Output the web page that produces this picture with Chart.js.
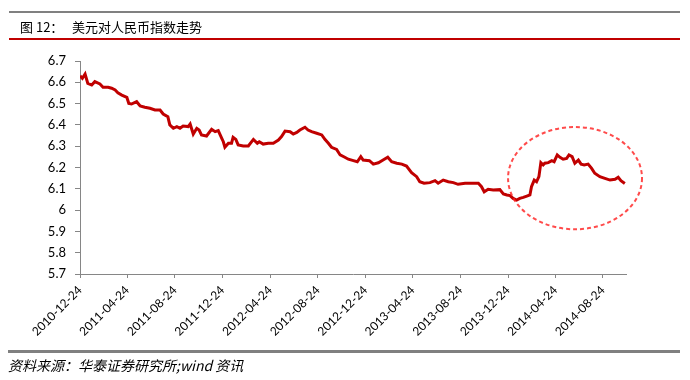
<!DOCTYPE html>
<html>
<head>
<meta charset="utf-8">
<script src="https://cdn.jsdelivr.net/npm/chart.js@4"></script>
<style>
  html, body { margin: 0; padding: 0; background: #ffffff; }
  #wrap { width: 690px; height: 380px; position: relative; }
</style>
</head>
<body>
<div id="wrap"><canvas id="c" width="690" height="380"></canvas></div>
<script>
// ---- data ----
const dates = [
'2010-12-24','2010-12-30','2011-01-06','2011-01-13','2011-01-23','2011-01-31','2011-02-13','2011-02-21','2011-03-06','2011-03-15',
'2011-03-24','2011-03-31','2011-04-10','2011-04-23','2011-04-28','2011-05-05','2011-05-18','2011-05-27','2011-06-08','2011-06-21',
'2011-07-04','2011-07-17','2011-07-25','2011-08-06','2011-08-11','2011-08-20','2011-08-29','2011-09-06','2011-09-14','2011-09-27',
'2011-10-02','2011-10-10','2011-10-19','2011-10-25','2011-10-31','2011-11-13','2011-11-26','2011-12-05','2011-12-13','2011-12-22',
'2011-12-26','2011-12-30','2012-01-08','2012-01-16','2012-01-20','2012-01-27','2012-02-02','2012-02-15','2012-02-28','2012-03-12',
'2012-03-22','2012-03-27','2012-04-06','2012-04-19','2012-05-02','2012-05-15','2012-05-23','2012-06-01','2012-06-14','2012-06-22',
'2012-07-01','2012-07-09','2012-07-22','2012-07-30','2012-08-08','2012-08-21','2012-09-03','2012-09-11','2012-09-20','2012-09-28',
'2012-10-11','2012-10-20','2012-11-01','2012-11-10','2012-11-23','2012-12-03','2012-12-12','2012-12-18','2013-01-03','2013-01-13',
'2013-01-26','2013-02-07','2013-02-19','2013-03-01','2013-03-14','2013-03-27','2013-04-08','2013-04-21','2013-05-04','2013-05-12',
'2013-05-23','2013-06-07','2013-06-20','2013-06-28','2013-07-11','2013-07-24','2013-08-06','2013-08-18','2013-09-05','2013-09-22',
'2013-10-09','2013-10-17','2013-10-24','2013-11-03','2013-11-16','2013-12-03','2013-12-12','2013-12-21','2013-12-29','2014-01-06',
'2014-01-15','2014-01-23','2014-02-01','2014-02-10','2014-02-18','2014-02-22','2014-03-01','2014-03-07','2014-03-13','2014-03-18',
'2014-03-24','2014-03-28','2014-04-06','2014-04-15','2014-04-21','2014-04-29','2014-05-06','2014-05-14','2014-05-23','2014-05-29',
'2014-06-06','2014-06-13','2014-06-22','2014-06-29','2014-07-07','2014-07-17','2014-07-26','2014-08-03','2014-08-16','2014-08-29',
'2014-09-11','2014-09-24','2014-10-02','2014-10-09','2014-10-19'
];
const usdCny = [
6.630,6.619,6.639,6.595,6.587,6.603,6.592,6.577,6.577,6.572,
6.564,6.551,6.540,6.529,6.501,6.498,6.509,6.489,6.483,6.478,
6.470,6.470,6.451,6.438,6.400,6.384,6.392,6.384,6.395,6.392,
6.404,6.357,6.384,6.376,6.353,6.348,6.379,6.368,6.373,6.337,
6.321,6.295,6.314,6.314,6.342,6.332,6.306,6.301,6.301,6.332,
6.314,6.321,6.310,6.314,6.314,6.329,6.345,6.371,6.368,6.357,
6.365,6.376,6.389,6.376,6.368,6.361,6.353,6.332,6.314,6.295,
6.285,6.259,6.248,6.239,6.232,6.227,6.251,6.235,6.232,6.216,
6.222,6.235,6.248,6.227,6.220,6.216,6.207,6.176,6.157,6.133,
6.126,6.129,6.138,6.126,6.141,6.133,6.129,6.121,6.126,6.126,
6.126,6.110,6.086,6.098,6.094,6.096,6.076,6.071,6.068,6.055,
6.047,6.055,6.060,6.066,6.071,6.110,6.141,6.133,6.157,6.223,
6.212,6.220,6.223,6.232,6.227,6.259,6.248,6.239,6.243,6.259,
6.251,6.220,6.235,6.216,6.212,6.216,6.196,6.173,6.157,6.149,
6.141,6.145,6.154,6.138,6.125
];
const xTickLabels = ['2010-12-24','2011-04-24','2011-08-24','2011-12-24','2012-04-24','2012-08-24',
                     '2012-12-24','2013-04-24','2013-08-24','2013-12-24','2014-04-24','2014-08-24'];
const yTickLabels = ['5.7','5.8','5.9','6','6.1','6.2','6.3','6.4','6.5','6.6','6.7'];
const axisEndDate = '2014-10-22';
// highlighted period (dashed ellipse) in data terms
const highlightFrom = '2013-12-24', highlightTo = '2014-12-02';
const highlightLow = 5.91, highlightHigh = 6.39;

const titlePrefix = '图 12：';
const titleText = '美元对人民币指数走势';
const sourceText = '资料来源：华泰证券研究所;wind 资讯';

// ---- helpers ----
const base = Date.UTC(2010, 11, 24);
function dayOf(s) {
  const p = s.split('-');
  return Math.round((Date.UTC(+p[0], +p[1] - 1, +p[2]) - base) / 86400000);
}
const points = dates.map((d, i) => ({ x: dayOf(d), y: usdCny[i] }));
const xTickDays = xTickLabels.map(dayOf);
const yTickVals = yTickLabels.map(Number);

const decor = {
  id: 'decor',
  beforeDraw(chart) {
    const ctx = chart.ctx;
    ctx.save();
    ctx.fillStyle = '#ffffff';
    ctx.fillRect(0, 0, chart.width, chart.height);
    ctx.restore();
  },
  afterDraw(chart) {
    const ctx = chart.ctx;
    ctx.save();
    // top gray rule
    ctx.fillStyle = '#808080';
    ctx.fillRect(9, 11, 671, 2);
    // red rule under title
    ctx.fillStyle = '#c00000';
    ctx.fillRect(9, 38, 671, 2);
    // bottom gray rule
    ctx.fillStyle = '#808080';
    ctx.fillRect(8, 350, 672, 3);
    // title
    ctx.fillStyle = '#000000';
    ctx.font = '13px "Noto Sans CJK SC"';
    ctx.textBaseline = 'middle';
    ctx.textAlign = 'left';
    ctx.fillText(titlePrefix, 20, 27);
    ctx.fillText(titleText, 72, 27);
    // source
    ctx.font = 'italic 14px "Noto Sans CJK SC"';
    ctx.fillText(sourceText, 8, 366);
    // dashed ellipse
    const xs = chart.scales.x, ys = chart.scales.y;
    const x1 = xs.getPixelForValue(dayOf(highlightFrom));
    const x2 = xs.getPixelForValue(dayOf(highlightTo));
    const y1 = ys.getPixelForValue(highlightHigh);
    const y2 = ys.getPixelForValue(highlightLow);
    ctx.beginPath();
    ctx.ellipse((x1 + x2) / 2, (y1 + y2) / 2, (x2 - x1) / 2, (y2 - y1) / 2, 0, 0, Math.PI * 2);
    ctx.strokeStyle = 'rgba(255,30,30,0.8)';
    ctx.lineWidth = 2;
    ctx.setLineDash([4, 3]);
    ctx.stroke();
    ctx.restore();
  }
};

new Chart(document.getElementById('c'), {
  type: 'line',
  data: {
    datasets: [{
      data: points,
      borderColor: '#c00000',
      borderWidth: 3,
      pointRadius: 0,
      tension: 0,
      fill: false
    }]
  },
  options: {
    responsive: false,
    animation: false,
    devicePixelRatio: 1,
    layout: { padding: { left: 0, top: 61, right: 64, bottom: 26 } },
    plugins: { legend: { display: false }, tooltip: { enabled: false }, title: { display: false } },
    scales: {
      x: {
        type: 'linear',
        min: 0,
        max: dayOf(axisEndDate),
        afterFit(scale) { scale.height = 80; },
        afterBuildTicks(scale) { scale.ticks = xTickDays.map(v => ({ value: v })); },
        border: { color: '#868686', width: 1 },
        grid: { drawOnChartArea: false, drawTicks: true, tickLength: 4, color: '#868686' },
        ticks: {
          autoSkip: false,
          maxRotation: 45,
          minRotation: 45,
          padding: 5,
          color: '#000000',
          font: { family: 'Lato', size: 12 },
          callback(value, index) { return xTickLabels[index]; }
        }
      },
      y: {
        min: 5.7,
        max: 6.7,
        afterFit(scale) { scale.width = 80; },
        afterBuildTicks(scale) { scale.ticks = yTickVals.map(v => ({ value: v })); },
        border: { color: '#868686', width: 1 },
        grid: { drawOnChartArea: false, drawTicks: true, tickLength: 5, color: '#868686' },
        ticks: {
          padding: 9,
          color: '#000000',
          font: { family: 'Lato', size: 13 },
          callback(value, index) { return yTickLabels[index]; }
        }
      }
    }
  },
  plugins: [decor]
});
</script>
</body>
</html>
